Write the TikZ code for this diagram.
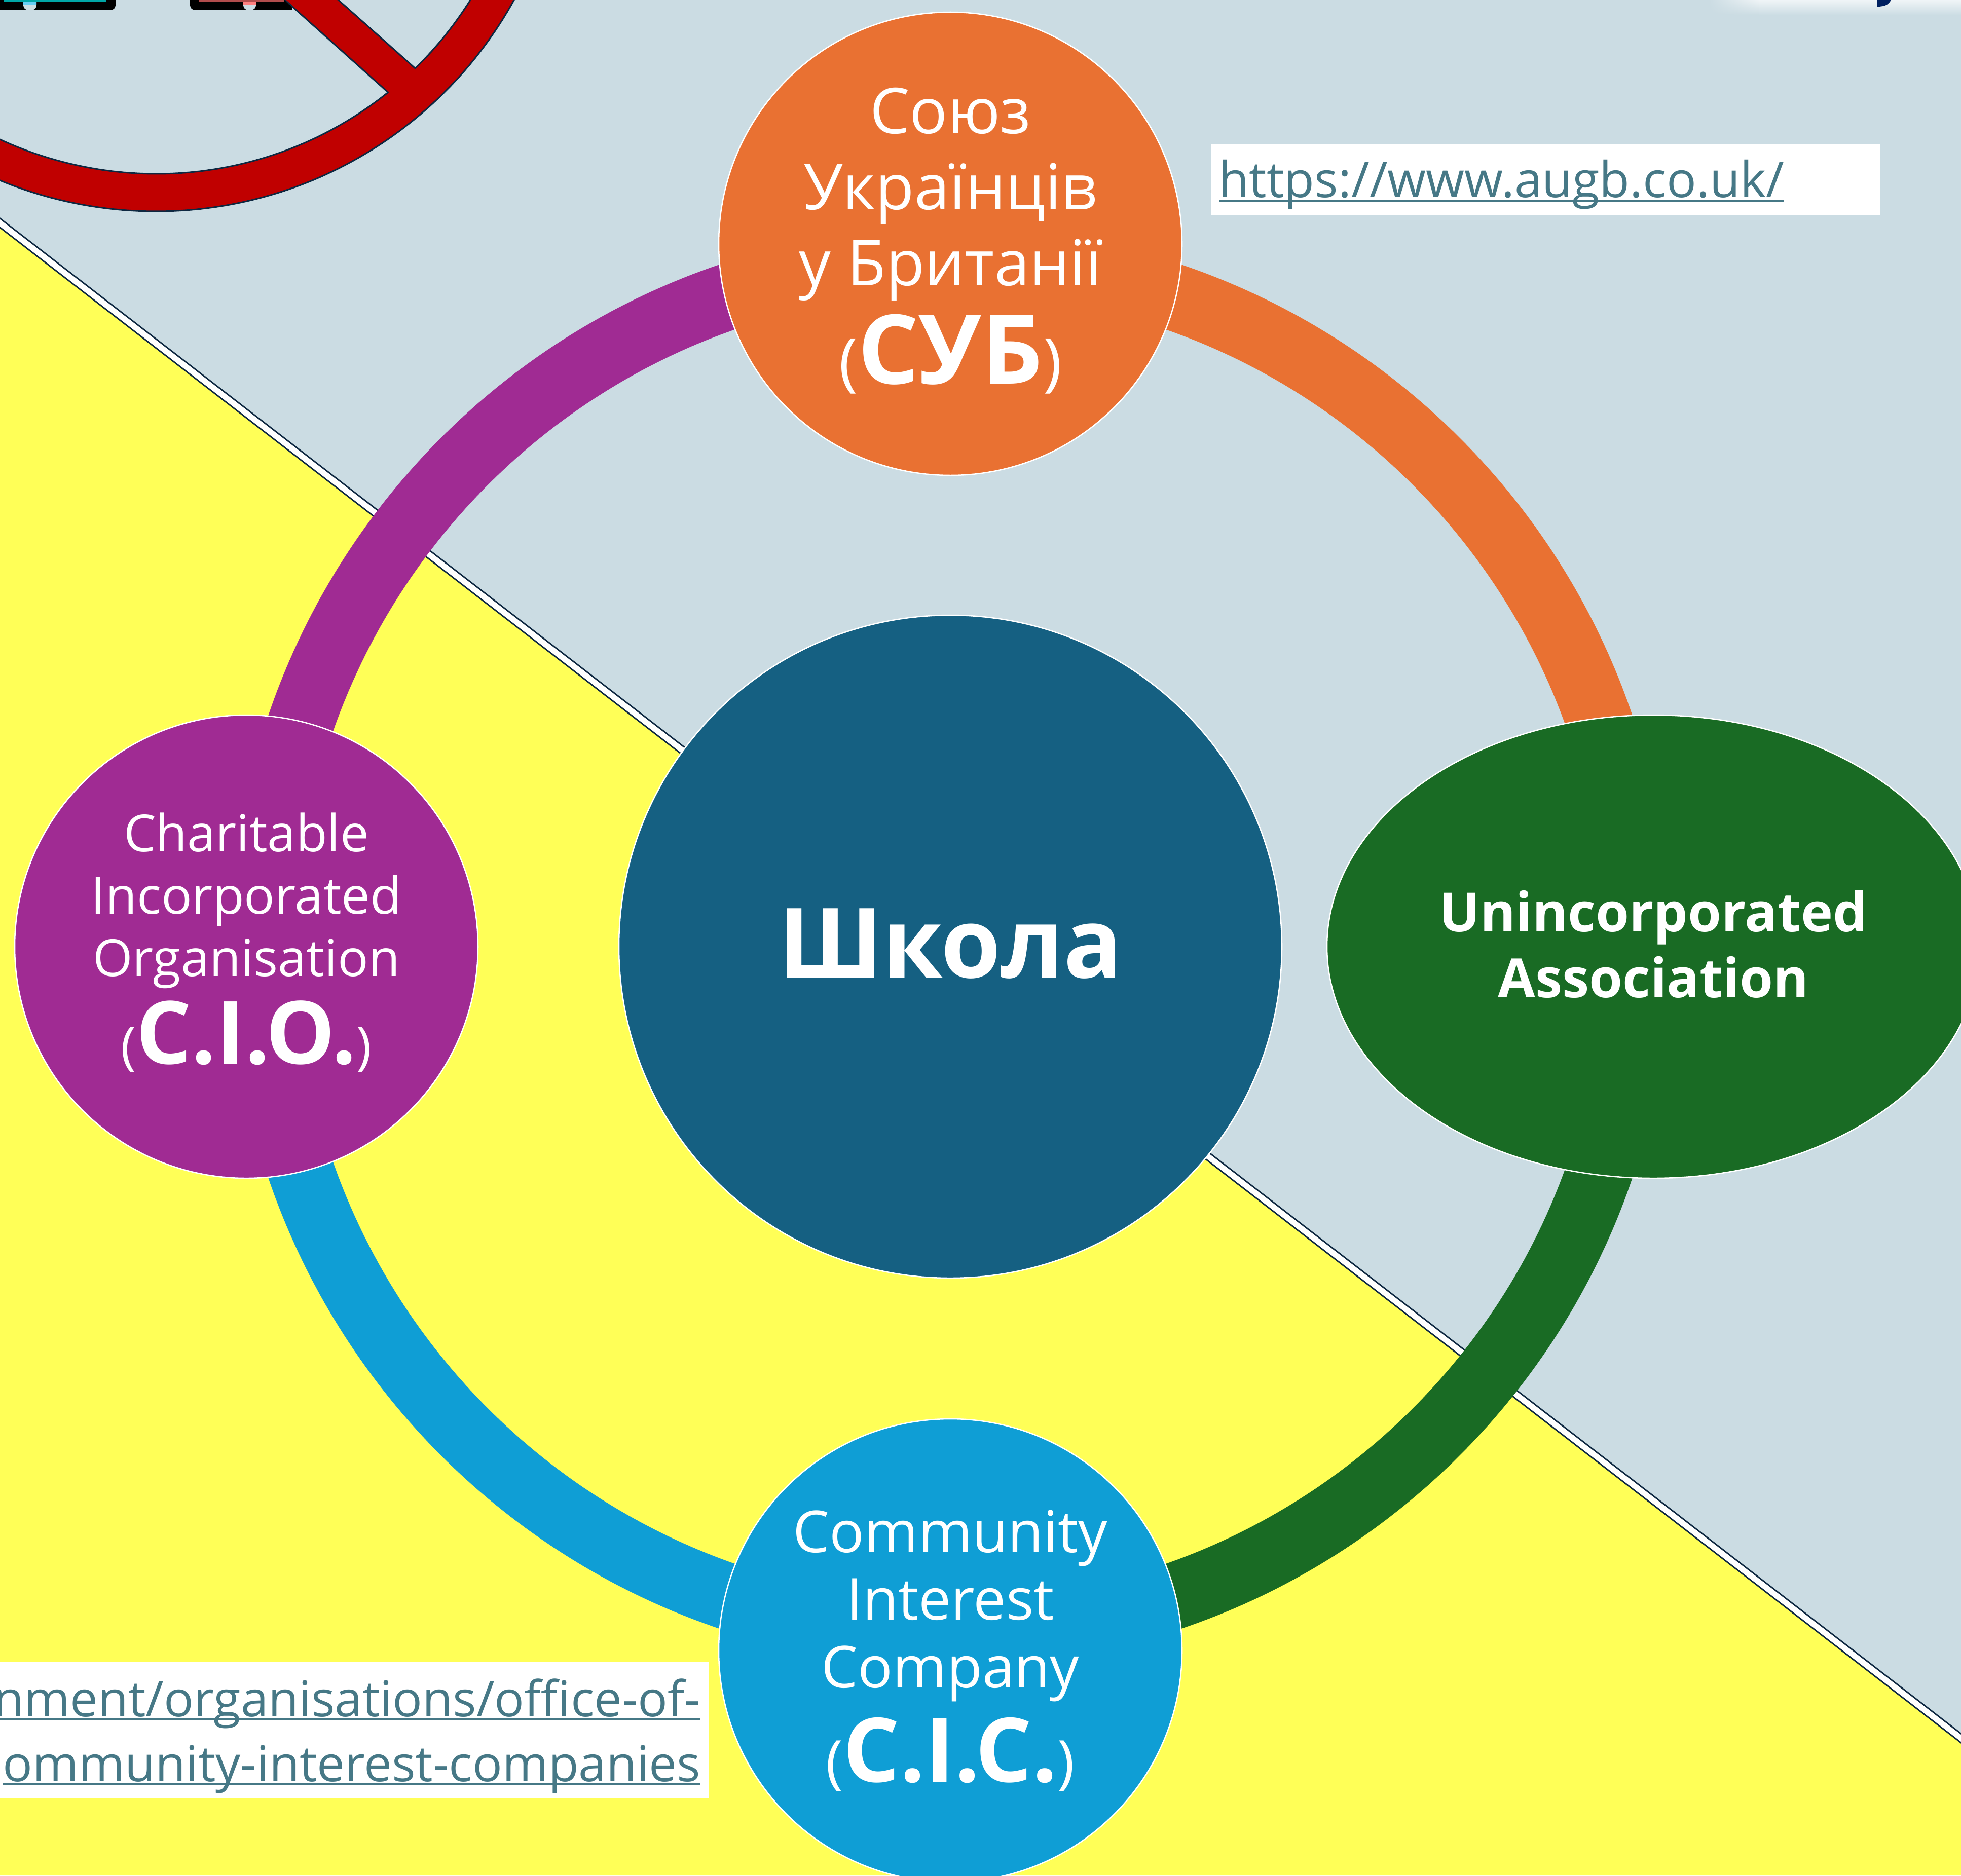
\documentclass[tikz,border=0pt]{standalone}
\usepackage{fontspec}
\setmainfont{Open Sans}
\usetikzlibrary{backgrounds,shapes.geometric,fadings}
\definecolor{skyback}{HTML}{CBDCE3}
\definecolor{sunback}{HTML}{FFFF57}
\definecolor{inkline}{HTML}{0E2841}
\definecolor{signred}{HTML}{C00000}
\definecolor{hubblue}{HTML}{156082}
\definecolor{arcorange}{HTML}{E97132}
\definecolor{arcgreen}{HTML}{196B24}
\definecolor{arcblue}{HTML}{0F9ED5}
\definecolor{arcpurple}{HTML}{A02B93}
\definecolor{linkteal}{HTML}{467886}
\definecolor{tailnavy}{HTML}{002060}
\newcommand{\abbr}[2]{({\fontsize{#1}{#1}\selectfont\bfseries #2})}
\newcommand{\linkline}[1]{\setbox0\hbox{#1}\rlap{\rule[-2.4pt]{\wd0}{1.4pt}}\box0}
\begin{document}
\begin{tikzpicture}
\tikzset{
  orgnoeud/.style={circle, draw=white, line width=0.025cm, text=white, minimum size=9.14cm, inner sep=0pt, align=center},
  ringarc/.style={line width=1.31cm},
  linkbox/.style={fill=white, text=linkteal, inner sep=0pt, font=\fontsize{27.8}{36}\selectfont}
}
\useasboundingbox (0, 0) rectangle (38.69, -37.01);
% nodes
\node[orgnoeud, fill=hubblue, minimum size=13.08cm, text depth=4pt, font=\fontsize{54.5}{60}\selectfont\bfseries] (hub) at (18.75, -18.68) {Школа};
\node[orgnoeud, fill=arcorange, text depth=9pt, font=\fontsize{35.5}{42.7}\selectfont] (cub) at (18.75, -4.81) {Союз\\Українців\\у Британії\\[6.4pt]\abbr{54}{СУБ}};
\node[orgnoeud, fill=arcpurple, text depth=9.4pt, font=\fontsize{28.7}{35}\selectfont] (cio) at (4.86, -18.68) {Charitable\\Incorporated\\Organisation\\[5.9pt]\abbr{49}{C.I.O.}};
\node[orgnoeud, fill=arcblue, font=\fontsize{32.5}{38}\selectfont] (cic) at (18.75, -32.57) {Community\\Interest\\Company\\[8pt]\abbr{50}{C.I.C.}};
\node[orgnoeud, ellipse, fill=arcgreen, minimum width=12.88cm, minimum height=9.14cm, text depth=2.8pt, font=\fontsize{30.4}{37}\selectfont\bfseries] (ui) at (32.62, -18.68) {Unincorporated\\Association};
% link boxes
\path[fill=white] (23.89, -2.84) rectangle (37.09, -4.24);
\node[linkbox, anchor=base west] (augb) at (24.04, -3.90) {\linkline{https://www.augb.co.uk/}};
\path[fill=white] (0, -32.79) rectangle (13.99, -35.48);
\node[linkbox, anchor=base east] (gov1) at (13.83, -33.87) {\linkline{nment/organisations/office-of-}};
\node[linkbox, anchor=base east] (gov2) at (13.83, -35.15) {\linkline{ommunity-interest-companies}};
\begin{scope}[on background layer]
% backdrop
\fill[skyback] (0, 0) rectangle (38.69, -37.01);
\fill[sunback] (0, -4.40) -- (38.69, -34.30) -- (38.69, -37.01) -- (0, -37.01) -- cycle;
\draw[inkline, line width=0.03cm, double=white, double distance=0.11cm] (-1, -3.627) -- (39.69, -35.073);
\shade[top color=white!70!skyback, bottom color=skyback] (33.70, 0) rectangle (38.69, -0.30);
\fill[skyback, path fading=east] (33.70, 0) rectangle (34.70, -0.30);
\fill[tailnavy] (37.03, 0) -- (37.31, 0) .. controls (37.25, -0.10) and (37.18, -0.13) .. (37.03, -0.13) -- cycle;
% prohibition sign
\filldraw[signred, draw=inkline, line width=0.03cm] (3.08, 3.89) circle (8.06);
\filldraw[skyback, draw=inkline, line width=0.03cm] (3.08, 3.89) ++(-51.3:7.32) arc[start angle=-51.3, end angle=-170, radius=7.32] -- (2.70, 2.62) -- cycle;
\filldraw[skyback, draw=inkline, line width=0.03cm] (3.08, 3.89) ++(-45.7:7.32) arc[start angle=-45.7, end angle=0, radius=7.32] -- (2.30, 3.89) -- cycle;
% cut off pieces at the top edge
\fill[black, rounded corners=0.1cm] (-0.5, 0.5) rectangle (2.28, -0.20);
\fill[skyback, rounded corners=0.1cm] (0.46, 0.5) rectangle (0.72, -0.20);
\fill[cyan!60!white] (0.46, 0) rectangle (0.72, -0.10);
\fill[teal!70!cyan] (0.07, 0) rectangle (2.10, -0.03);
\fill[black, rounded corners=0.1cm] (3.75, 0.5) -- (3.75, -0.20) -- (5.82, -0.20) [sharp corners] -- (5.61, 0) -- cycle;
\fill[skyback, rounded corners=0.1cm] (4.80, 0.5) rectangle (5.05, -0.20);
\fill[red!50!white] (4.80, 0) rectangle (5.05, -0.10);
\fill[red!40!gray] (3.92, 0) rectangle (5.60, -0.03);
% ring
\draw[ringarc, arcorange] (cub.center) -- (18.75, -5.13) arc[start angle=90, end angle=0, radius=13.55] -- (ui.center);
\draw[ringarc, arcgreen] (ui.center) -- (32.30, -18.68) arc[start angle=0, end angle=-90, radius=13.55] -- (cic.center);
\draw[ringarc, arcblue] (cic.center) -- (18.75, -32.23) arc[start angle=-90, end angle=-180, radius=13.55] -- (cio.center);
\draw[ringarc, arcpurple] (cio.center) -- (5.20, -18.68) arc[start angle=180, end angle=90, radius=13.55] -- (cub.center);
\end{scope}
\end{tikzpicture}
\end{document}
